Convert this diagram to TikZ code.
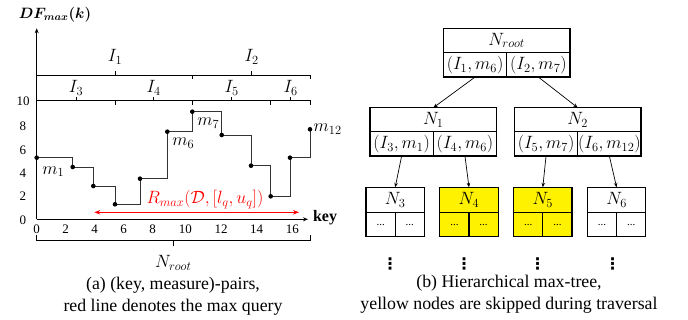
\RequirePackage{fix-cm}
\documentclass[tikz,border=0pt]{standalone}
\usepackage{amsmath,amssymb}
\usepackage{bm}
\usepackage{fontspec}
\setmainfont{Liberation Serif}
\newfontfamily\dotsfont{DejaVu Sans}
\usetikzlibrary{positioning,calc,arrows.meta}

\tikzset{
    stepline/.style={line width=0.8pt, black!80},
    keydot/.style={circle, fill=black, inner sep=0pt, minimum size=4.6pt},
    bracket/.style={line width=0.8pt},
    ticklabel/.style={font=\fontsize{13}{15}\selectfont, inner sep=0pt},
    headcell/.style={draw, line width=1.2pt, outer sep=0pt, inner sep=0pt, minimum width=126.7pt, minimum height=24.4pt},
    halfcell/.style={draw, line width=1.2pt, outer sep=0pt, inner sep=0pt, minimum width=63.35pt, minimum height=24.4pt},
    leafhead/.style={draw, line width=1.2pt, outer sep=0pt, inner sep=0pt, minimum width=58.3pt, minimum height=25.4pt},
    leafcell/.style={draw, line width=1.2pt, outer sep=0pt, inner sep=0pt, minimum width=29.15pt, minimum height=24pt, font=\fontsize{11}{13}\selectfont},
    skipped/.style={fill=yellow},
    treearrow/.style={-{Stealth[length=4.5pt,width=3.5pt]}, line width=0.7pt},
    moredots/.style={inner sep=0pt, font=\dotsfont\bfseries\fontsize{16}{18}\selectfont},
}

\begin{document}
\begin{tikzpicture}[x=1pt, y=1pt, font=\fontsize{17.8}{22.5}\selectfont]
    \useasboundingbox (0,0) rectangle (688,320);

    % Axes
    \draw[line width=0.8pt, -{Stealth[length=5pt,width=4pt]}] (36.7,100.7) -- (36.7,291.7);
    \draw[line width=0.8pt, -{Stealth[length=5pt,width=4pt]}] (36.7,100.7) -- (308,100.7);
    \node[font=\fontsize{15}{18}\selectfont] (dflabel) at (55,305) {$\bm{DF_{max}(k)}$};
    \node[font=\fontsize{16}{18}\selectfont\bfseries] (keylabel) at (325,102.3) {key};

    % Tick labels
    \foreach \x/\k in {36.7/0, 65.7/2, 94.7/4, 123.7/6, 152.7/8, 185.3/10, 221/12, 256.7/14, 292.3/16} {
        \node[ticklabel] (xt\k) at (\x, 90.7) {\k};
    }
    \foreach \y/\v in {100/0, 123.3/2, 146.7/4, 169.3/6, 193.3/8, 218.3/10} {
        \node[ticklabel] (yt\v) at (23, \y) {\v};
    }

    % Interval brackets
    \foreach \a/\b/\m/\yy/\ly/\i in {36.7/192.3/115/245/263/1, 192.3/310/251.7/245/263/2,
                                  36.7/115/76/219.3/232/3, 115/192.3/153.7/219.3/232/4,
                                  192.3/270.7/231.7/219.3/232/5, 270.7/310/290.7/219.3/232/6} {
        \draw[bracket] (\a,\yy-4) -- (\a,\yy) -- (\b,\yy) -- (\b,\yy-4)
                       (\m,\yy) -- (\m,\yy+4);
        \node (int\i) at (\m,\ly) {$I_{\i}$};
    }
    \draw[bracket] (36.7,85) -- (36.7,80) -- (310,80) -- (310,85)
                   (173.3,80) -- (173.3,74);
    \node (rootlabel) at (173.3,57) {$N_{root}$};

    % Step function
    \draw[stepline] (36.7,162.3) -| (72.7,153) -| (93.3,134) -| (115,115.7)
                    -| (140,141.3) -| (167.3,188.3) -| (192.3,208.3) -| (221.7,185)
                    -| (251,154.3) -| (270.7,123.7) -| (290,162.3) -| (310,190.7);
    \foreach \x/\y/\i in {36.7/162.3/1, 72.7/153/2, 93.3/134/3, 115/115.7/4, 140/141.3/5,
                          167.3/188.3/6, 192.3/208.3/7, 221.7/185/8, 251/154.3/9,
                          270.7/123.7/10, 290/162.3/11, 310/190.7/12} {
        \node[keydot] (m\i) at (\x,\y) {};
    }
    \node (lm1) at (53.3,148.3) {$m_1$};
    \node (lm6) at (183.3,176.7) {$m_6$};
    \node (lm7) at (208.3,196.7) {$m_7$};
    \node[anchor=west, inner sep=1pt] (lm12) at (m12.east) {$m_{12}$};

    % Max query
    \coordinate (lq) at (94.3,107.7);
    \coordinate (uq) at (299,107.7);
    \draw[red, line width=1.1pt, {Stealth[length=6pt,width=4.5pt]}-{Stealth[length=6pt,width=4.5pt]}] (lq) -- (uq);
    \node[red] (query) at (205,120.7) {$R_{max}(\mathcal{D},[l_q,u_q])$};

    \node[align=center] (capa) at (173,23.5) {(a) (key, measure)-pairs,\\red line denotes the max query};

    % Max-tree
    \node[headcell] (root) at (506.7,279.5) {$N_{root}$};
    \node[halfcell, anchor=north west] (rootl) at (root.south west) {$(I_1,m_6)$};
    \node[halfcell, anchor=north east] (rootr) at (root.south east) {$(I_2,m_7)$};

    \node[headcell, minimum height=24pt] (n1) at (433.3,200.3) {$N_1$};
    \node[halfcell, anchor=north west] (n1l) at (n1.south west) {$(I_3,m_1)$};
    \node[halfcell, anchor=north east] (n1r) at (n1.south east) {$(I_4,m_6)$};

    \node[headcell, minimum height=24pt] (n2) at (577.7,200.3) {$N_2$};
    \node[halfcell, anchor=north west] (n2l) at (n2.south west) {$(I_5,m_7)$};
    \node[halfcell, anchor=north east] (n2r) at (n2.south east) {$(I_6,m_{12})$};

    \node[leafhead] (n3) at (395.2,120) {$N_3$};
    \node[leafhead, skipped, right=15.5pt of n3] (n4) {$N_4$};
    \node[leafhead, skipped, right=15.5pt of n4] (n5) {$N_5$};
    \node[leafhead, right=15.5pt of n5] (n6) {$N_6$};
    \foreach \n/\s in {3/, 4/skipped, 5/skipped, 6/} {
        \node[leafcell, \s, anchor=north west] (n\n l) at (n\n.south west) {...};
        \node[leafcell, \s, anchor=north east] (n\n r) at (n\n.south east) {...};
    }

    \draw[treearrow] (rootl.south) -- (n1.north);
    \draw[treearrow] (rootr.south) -- (n2.north);
    \draw[treearrow] (n1l.south) -- (n3.north);
    \draw[treearrow] (n1r.south) -- (n4.north);
    \draw[treearrow] (n2l.south) -- (n5.north);
    \draw[treearrow] (n2r.south) -- (n6.north);

    \foreach \x/\k in {390/3, 464/4, 537.7/5, 612.7/6} {
        \node[moredots] (vd\k) at (\x,56) {⋮};
    }

    \node[align=center] (capb) at (509,25.8) {(b) Hierarchical max-tree,\\yellow nodes are skipped during traversal};
\end{tikzpicture}
\end{document}
